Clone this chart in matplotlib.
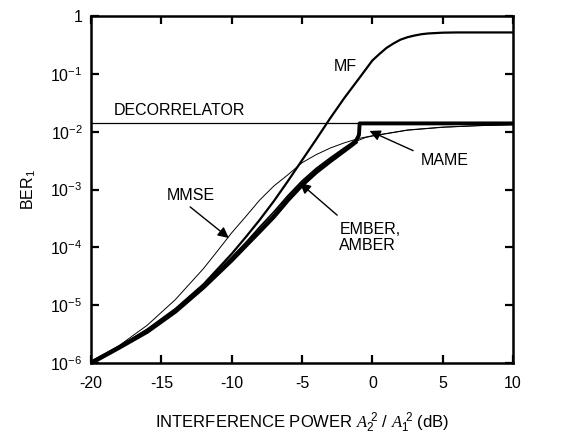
import matplotlib
matplotlib.use("Agg")
import matplotlib.pyplot as plt
import numpy as np

plt.rcParams['font.family'] = ['Liberation Sans', 'DejaVu Sans']
plt.rcParams['mathtext.fontset'] = 'custom'
plt.rcParams['mathtext.rm'] = 'Liberation Sans'
plt.rcParams['mathtext.it'] = 'Liberation Serif:italic'
plt.rcParams['mathtext.default'] = 'rm'

# ---- data ----
x_ticks = [-20, -15, -10, -5, 0, 5, 10]
x_tick_labels = ['-20', '-15', '-10', '-5', '0', '5', '10']
y_ticks = [1e-6, 1e-5, 1e-4, 1e-3, 1e-2, 1e-1, 1]
y_tick_labels = ['10$^{-6}$', '10$^{-5}$', '10$^{-4}$', '10$^{-3}$', '10$^{-2}$', '10$^{-1}$', '1']

decor_db = [-20, 10]
decor_ber = [1.39e-2, 1.39e-2]

mf_db = [-20, -18, -16, -14, -12, -10, -9, -8, -7, -6, -5, -4, -3, -2, -1, 0, 0.5, 1, 1.5, 2, 2.5, 3, 3.5, 4, 5, 6, 10]
mf_ber = [1.05e-6, 1.9e-6, 3.8e-6, 8.6e-6, 2.3e-5, 7.7e-5, 1.5e-4, 3.0e-4, 6.3e-4, 1.4e-3, 3.2e-3,
          7.3e-3, 1.7e-2, 3.8e-2, 8.0e-2, 0.17, 0.22, 0.28, 0.335, 0.39, 0.43, 0.46, 0.485, 0.5, 0.515, 0.52, 0.52]

mmse_db = [-20, -18, -16, -14, -12, -11, -10, -9, -8, -7, -6, -5, -4, -3, -2, -1, 0, 1, 2.5, 5, 7.5, 10]
mmse_ber = [1.05e-6, 2.0e-6, 4.5e-6, 1.25e-5, 4.3e-5, 8.7e-5, 1.78e-4, 3.4e-4, 6.6e-4, 1.15e-3, 1.8e-3,
            2.9e-3, 4.0e-3, 5.2e-3, 6.4e-3, 7.6e-3, 8.5e-3, 9.3e-3, 1.07e-2, 1.2e-2, 1.27e-2, 1.32e-2]

ember_db = [-20, -18, -16, -14, -12, -10, -9, -8, -7, -6, -5, -4, -3, -2, -1.5, -1.1, -0.5, 0, 2.5, 5, 7.5, 10]
ember_ber = [1.0e-6, 1.85e-6, 3.5e-6, 7.8e-6, 2.05e-5, 6.0e-5, 1.07e-4, 1.9e-4, 3.4e-4, 6.6e-4, 1.2e-3,
             2.0e-3, 3.1e-3, 4.7e-3, 5.8e-3, 6.9e-3, 7.9e-3, 8.4e-3, 1.06e-2, 1.19e-2, 1.27e-2, 1.32e-2]
ember_kink = -1.1

mame_db = [-20, -18, -16, -14, -12, -10, -9, -8, -7, -6, -5, -4, -3, -2, -1.5, -1.1, -0.95, -0.9, 10]
mame_ber = [1.0e-6, 1.9e-6, 3.6e-6, 8.1e-6, 2.2e-5, 6.7e-5, 1.2e-4, 2.25e-4, 4.1e-4, 7.8e-4, 1.4e-3,
            2.3e-3, 3.5e-3, 5.2e-3, 6.3e-3, 7.4e-3, 8.8e-3, 1.39e-2, 1.39e-2]
mame_jump = -1.1

FS = 11.5

# ---- figure ----
fig = plt.figure(figsize=(5.63, 4.40), dpi=100)
ax = fig.add_axes([0.1616, 0.175, 0.7496, 0.7886])
ax.set_yscale('log')

ax.plot(decor_db, decor_ber, color='black', lw=0.9)
ax.plot(mmse_db, mmse_ber, color='black', lw=0.7)
ax.plot(mf_db, mf_ber, color='black', lw=1.6)

edb = np.array(ember_db); eber = np.array(ember_ber)
m1 = edb <= ember_kink
ax.plot(edb[m1], eber[m1], color='black', lw=3.2, solid_capstyle='butt')
m2 = edb >= ember_kink
ax.plot(edb[m2], eber[m2], color='black', lw=0.7)

mdb = np.array(mame_db); mber = np.array(mame_ber)
k1 = mdb <= mame_jump
ax.plot(mdb[k1], mber[k1], color='black', lw=1.3)
k2 = mdb >= mame_jump
ax.plot(mdb[k2], mber[k2], color='black', lw=2.8)

ax.set_xlim(-20, 10)
ax.set_ylim(1e-6, 1)
ax.set_xticks(x_ticks)
ax.set_xticklabels(x_tick_labels)
ax.set_yticks(y_ticks)
ax.set_yticklabels(y_tick_labels)
ax.yaxis.set_minor_locator(matplotlib.ticker.NullLocator())
ax.tick_params(axis='both', which='major', direction='in', length=6, width=1.6,
               top=True, right=True, labelsize=FS)
ax.tick_params(axis='x', pad=9.5)
ax.tick_params(axis='y', pad=6)
for s in ax.spines.values():
    s.set_linewidth(1.8)

ax.set_ylabel('BER$_1$', fontsize=FS, labelpad=9)
ax.set_xlabel(r'INTERFERENCE POWER $\mathit{A}_2^{\ 2}$ / $\mathit{A}_1^{\ 2}$ (dB)',
              fontsize=FS + 0.5, labelpad=14)

# annotations
ax.text(-1.9, 0.132, 'MF', fontsize=FS, ha='center', va='center')
ax.text(-18.35, 0.0237, 'DECORRELATOR', fontsize=FS, ha='left', va='center')
ax.text(5.15, 3.2e-3, 'MAME', fontsize=FS, ha='center', va='center')
ax.text(-12.9, 8.0e-4, 'MMSE', fontsize=FS, ha='center', va='center')
ax.text(-2.35, 1.5e-4, 'EMBER,\nAMBER', fontsize=FS, ha='left', va='center', linespacing=1.1)

ap = dict(arrowstyle='-|>', color='black', lw=1.0, mutation_scale=16, shrinkA=0, shrinkB=0)
ax.annotate('', xy=(-0.2, 1.03e-2), xytext=(2.9, 4.7e-3), arrowprops=ap)
ax.annotate('', xy=(-10.2, 1.45e-4), xytext=(-12.95, 5.0e-4), arrowprops=ap)
ax.annotate('', xy=(-5.15, 1.3e-3), xytext=(-2.5, 3.6e-4), arrowprops=ap)

fig.savefig('out.png', dpi=100)
